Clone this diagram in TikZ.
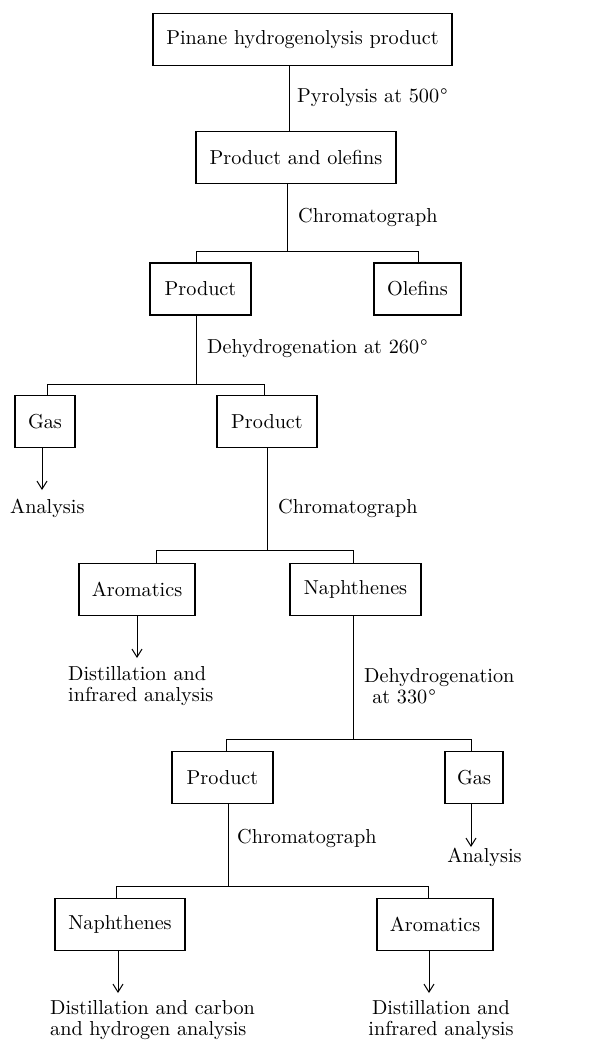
\documentclass[tikz,border=0pt]{standalone}
\usepackage{fontspec}
\setmainfont{lmroman10-regular.otf}
\usetikzlibrary{arrows.meta}
\begin{document}
\begin{tikzpicture}[x=1pt,y=-1pt,
  font=\fontsize{20.2}{21}\selectfont,
  box/.style={draw, line width=1.1pt, inner sep=0pt, minimum height=52pt},
  ln/.style={line width=1pt},
  arr/.style={line width=1pt, -{Straight Barb[length=8pt,width=10pt,line width=1pt]}},
  lbl/.style={inner sep=0pt, anchor=west},
  res/.style={inner sep=0pt},
]
\useasboundingbox (0,0) rectangle (593,1041);
% boxes
\node[box, minimum width=299pt] (b1) at (302.5,39.5) {Pinane hydrogenolysis product};
\node[box, minimum width=200pt] (b2) at (296,157.5) {Product and olefins};
\node[box, minimum width=101pt] (b3) at (200.5,289) {Product};
\node[box, minimum width=87pt]  (b4) at (417.5,289) {Olefins};
\node[box, minimum width=60pt]  (b5) at (45,421.5) {Gas};
\node[box, minimum width=100pt] (b6) at (267,421.5) {Product};
\node[box, minimum width=116pt] (b7) at (137,589.5) {Aromatics};
\node[box, minimum width=131pt] (b8) at (355.5,589.5) {Naphthenes};
\node[box, minimum width=101pt] (b9) at (222.5,777.5) {Product};
\node[box, minimum width=58pt]  (b10) at (474,777.5) {Gas};
\node[box, minimum width=130pt] (b11) at (120,924.5) {Naphthenes};
\node[box, minimum width=116pt] (b12) at (435,924.5) {Aromatics};
% labels
\node[lbl] (l1) at (297,98) {Pyrolysis at 500\kern1pt°};
\node[lbl] (l2) at (298,217) {Chromatograph};
\node[lbl] (l3) at (207,349) {Dehydrogenation at 260\kern1pt°};
\node[lbl] (l4) at (278,508) {Chromatograph};
\node[lbl, align=left] (l5) at (364,686.5) {Dehydrogenation\\\hspace{0.4em}at 330\kern1pt°};
\node[lbl] (l6) at (237,838) {Chromatograph};
% results
\node[res, anchor=west] (r1) at (10,508) {Analysis};
\node[res, anchor=west, align=left] (r2) at (68,686.5) {Distillation and\\infrared analysis};
\node[res] (r3) at (484.5,857) {Analysis};
\node[res, anchor=west, align=left] (r4) at (50,1020) {Distillation and carbon\\and hydrogen analysis};
\node[res, align=center] (r5) at (441,1020) {Distillation and\\infrared analysis};
% stage 1
\coordinate (p1) at (289,0);
\draw[ln] (b1.south -| p1) -- (b2.north -| p1);
% stage 2
\coordinate (t2) at (287,251); \coordinate (t2l) at (196,251); \coordinate (t2r) at (418,251);
\draw[ln] (b2.south -| t2) -- (t2);
\draw[ln] (b3.north -| t2l) -- (t2l) -- (t2r) -- (b4.north -| t2r);
% stage 3
\coordinate (t3) at (196,384); \coordinate (t3l) at (47,384); \coordinate (t3r) at (264,384);
\draw[ln] (b3.south -| t3) -- (t3);
\draw[ln] (b5.north -| t3l) -- (t3l) -- (t3r) -- (b6.north -| t3r);
\coordinate (a1) at (42,490);
\draw[arr] (b5.south -| a1) -- (a1);
% stage 4
\coordinate (t4) at (267,550); \coordinate (t4l) at (156,550); \coordinate (t4r) at (353,550);
\draw[ln] (b6.south -| t4) -- (t4);
\draw[ln] (b7.north -| t4l) -- (t4l) -- (t4r) -- (b8.north -| t4r);
\coordinate (a2) at (137,658);
\draw[arr] (b7.south -| a2) -- (a2);
% stage 5
\coordinate (t5) at (353,739); \coordinate (t5l) at (226,739); \coordinate (t5r) at (471,739);
\draw[ln] (b8.south -| t5) -- (t5);
\draw[ln] (b9.north -| t5l) -- (t5l) -- (t5r) -- (b10.north -| t5r);
\coordinate (a3) at (471,847);
\draw[arr] (b10.south -| a3) -- (a3);
% stage 6
\coordinate (t6) at (228,886); \coordinate (t6l) at (116,886); \coordinate (t6r) at (428,886);
\draw[ln] (b9.south -| t6) -- (t6);
\draw[ln] (b11.north -| t6l) -- (t6l) -- (t6r) -- (b12.north -| t6r);
\coordinate (a4) at (118,993);
\draw[arr] (b11.south -| a4) -- (a4);
\coordinate (a5) at (429,993);
\draw[arr] (b12.south -| a5) -- (a5);
\end{tikzpicture}
\end{document}
